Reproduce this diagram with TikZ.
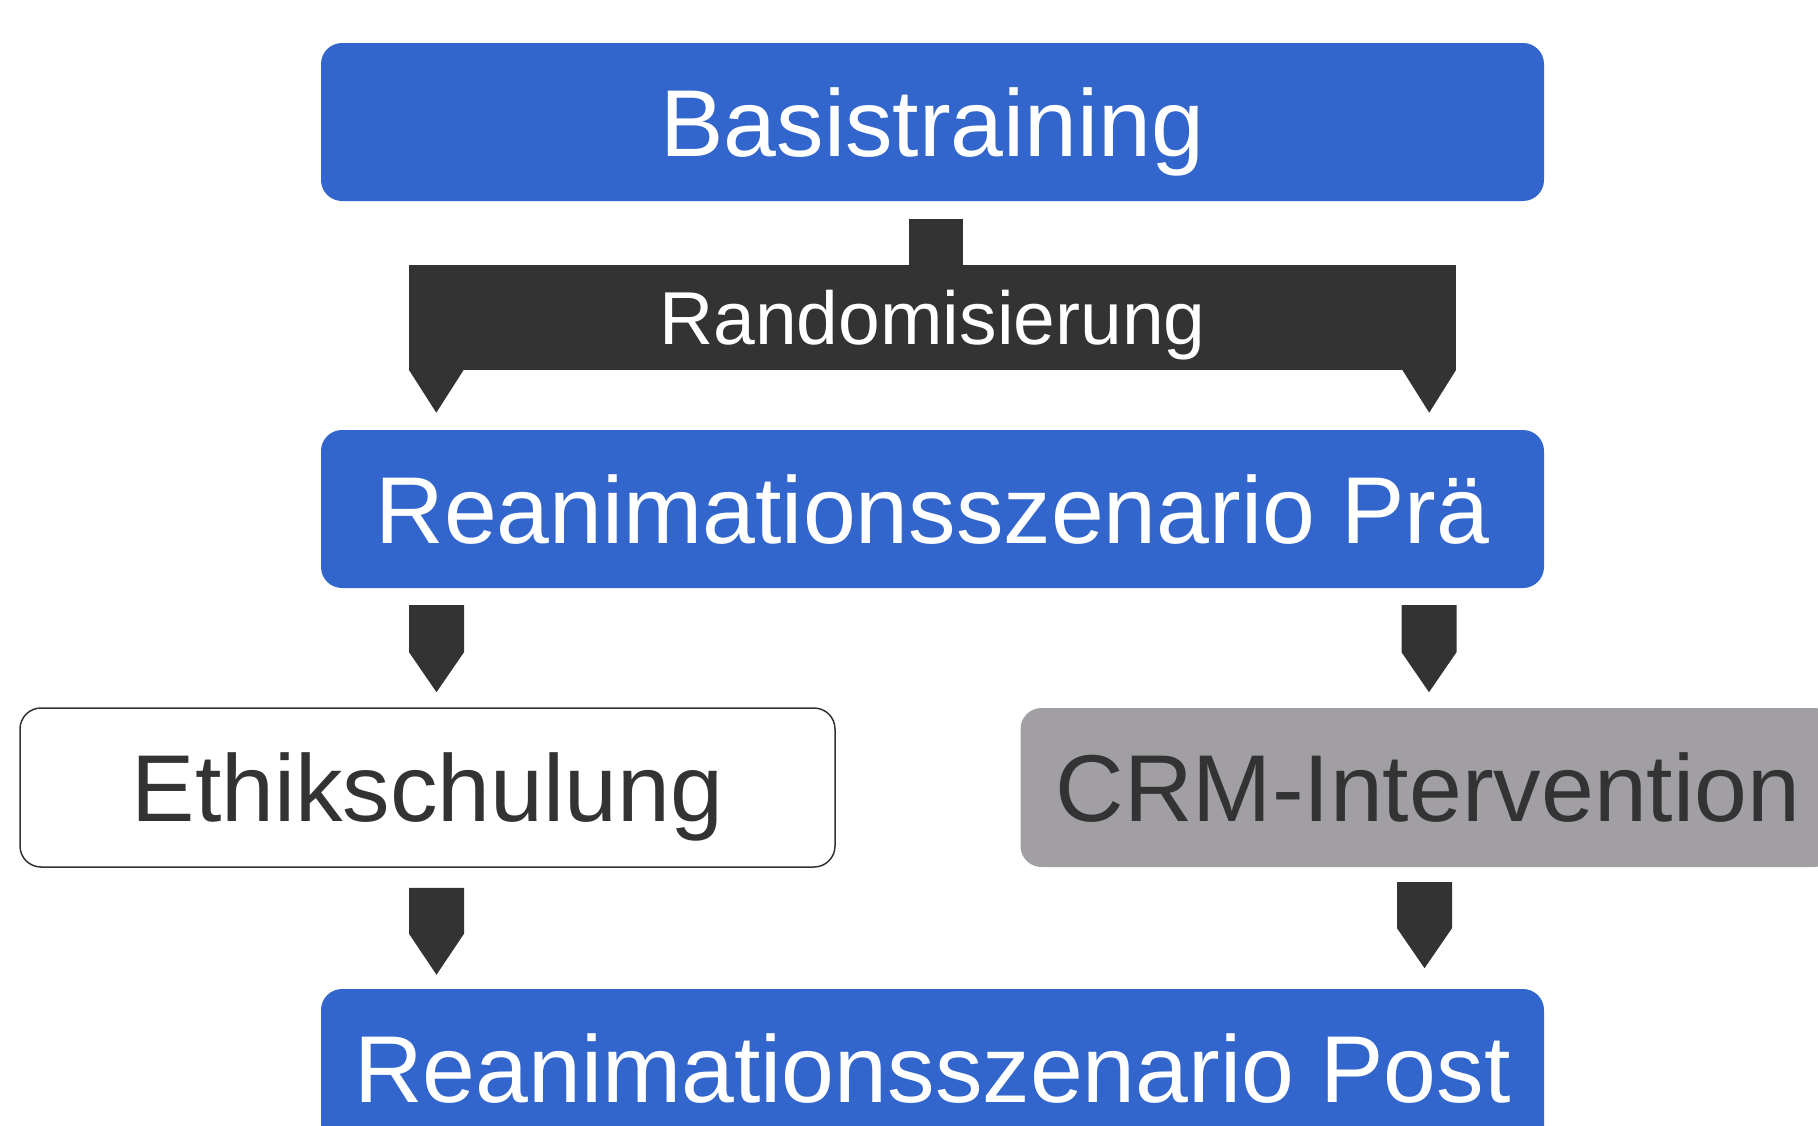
\documentclass[tikz,border=0pt]{standalone}
\usepackage{fontspec}
\setmainfont{Liberation Sans}
\usetikzlibrary{calc}
\definecolor{cblue}{HTML}{3366CC}
\definecolor{cdark}{HTML}{333333}
\definecolor{cgray}{HTML}{A19FA4}
\tikzset{
  box/.style={rectangle, rounded corners=21pt, minimum width=1223pt, minimum height=158pt,
    inner sep=0pt, text height=68pt, text depth=0pt, font=\fontsize{95}{110}\selectfont},
  bluebox/.style={box, fill=cblue, text=white},
  sidebox/.style={box, minimum width=815pt, minimum height=159pt},
  arrowfill/.style={fill=cdark, draw=none},
}
\newcommand{\blkarrow}[3]{%
  \fill[arrowfill] #1 ++(-27.5,0) -- ++(55,0) -- ++(0,#2) -- ++(-27.5,#3) -- ++(-27.5,-#3) -- cycle;}
\begin{document}
\begin{tikzpicture}[x=1pt,y=-1pt]
\useasboundingbox (0,0) rectangle (1818,1125);
\clip (0,0) rectangle (1818,1125);
\node[bluebox] (basis) at (932.5,122) {Basistraining};
\node[rectangle, fill=cdark, minimum width=1047pt, minimum height=105pt, inner sep=0pt,
  text=white, text height=54pt, text depth=0pt, font=\fontsize{75}{90}\selectfont] (rand) at (932.5,317.5) {Randomisierung};
\node[bluebox] (pre) at (932.5,509) {Reanimationsszenario Prä};
\node[sidebox, fill=white, draw=cdark, line width=1.5pt, text=cdark] (ethik) at (427.5,787.5) {Ethikschulung};
\node[sidebox, fill=cgray, text=cdark] (crm) at (1428,787.5) {CRM-Intervention};
\node[bluebox] (post) at (932.5,1068) {Reanimationsszenario Post};
% stem from Basistraining into the bar
\fill[arrowfill] ($(basis.south)+(-23.5,18)$) rectangle ($(rand.north)+(30.5,0.5)$);
% tips of the bar
\fill[arrowfill] ($(rand.south west)+(0,-0.5)$) -- ++(55,0) -- ++(-27.5,43) -- cycle;
\fill[arrowfill] ($(rand.south east)+(0,-0.5)$) -- ++(-54,0) -- ++(27,43) -- cycle;
% block arrows
\blkarrow{($(pre.south -| ethik.center)+(9,17)$)}{47}{40}
\blkarrow{($(pre.south -| crm.center)+(1,17)$)}{47}{40}
\blkarrow{($(ethik.south)+(9,20)$)}{46}{41}
\blkarrow{($(crm.south)+(-3.5,15)$)}{46}{40}
\end{tikzpicture}
\end{document}
